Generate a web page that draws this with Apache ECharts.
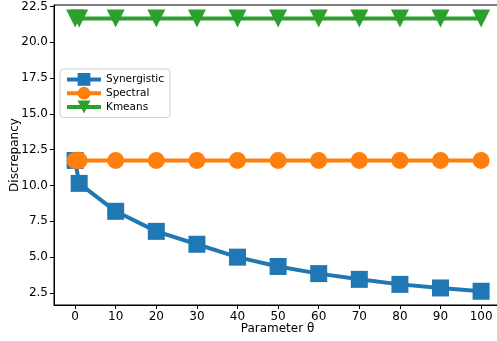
<!DOCTYPE html>
<html>
<head>
<meta charset="utf-8">
<script src="https://cdn.jsdelivr.net/npm/echarts@6/dist/echarts.min.js"></script>
<style>
  html, body { margin: 0; padding: 0; background: #fff; }
  #chart { width: 497px; height: 341px; }
</style>
</head>
<body>
<div id="chart"></div>
<script>
var thetas = [0, 1, 10, 20, 30, 40, 50, 60, 70, 80, 90, 100];
var synergistic = [11.75, 10.15, 8.2, 6.8, 5.9, 5.0, 4.35, 3.85, 3.45, 3.1, 2.85, 2.62];
var spectral = [11.75, 11.75, 11.75, 11.75, 11.75, 11.75, 11.75, 11.75, 11.75, 11.75, 11.75, 11.75];
var kmeans = [21.65, 21.65, 21.65, 21.65, 21.65, 21.65, 21.65, 21.65, 21.65, 21.65, 21.65, 21.65];
var xTicks = [0, 10, 20, 30, 40, 50, 60, 70, 80, 90, 100];
var yTicks = [2.5, 5, 7.5, 10, 12.5, 15, 17.5, 20, 22.5];

var chart = echarts.init(document.getElementById('chart'));
var font = 'DejaVu Sans';

function pairs(ys) {
  return thetas.map(function (t, i) { return [t, ys[i]]; });
}

var option = {
  animation: false,
  textStyle: { fontFamily: font },
  grid: {
    left: 54, top: 5, right: -4, bottom: 36,
    containLabel: false, outerBoundsMode: 'none',
    show: true, borderColor: '#000', borderWidth: 1
  },
  legend: {
    orient: 'vertical',
    left: 60, top: 69,
    itemWidth: 34, itemHeight: 16, itemGap: 1,
    padding: [4, 6, 4, 5],
    borderColor: '#ccc', borderWidth: 1, borderRadius: 3,
    lineStyle: { width: 4 },
    textStyle: { fontFamily: font, fontSize: 10.5, color: '#000' },
    data: ['Synergistic', 'Spectral', 'Kmeans']
  },
  xAxis: {
    type: 'value', min: -5.2, max: 104.9,
    name: 'Parameter θ', nameLocation: 'middle', nameGap: 18, nameMoveOverlap: false,
    nameTextStyle: { fontFamily: font, fontSize: 12, color: '#000' },
    axisLine: { onZero: false, lineStyle: { color: '#000' } },
    axisTick: { show: true, customValues: xTicks, length: 4, lineStyle: { color: '#000' } },
    axisLabel: { customValues: xTicks, fontFamily: font, fontSize: 12, color: '#000', margin: 6 },
    splitLine: { show: false }
  },
  yAxis: {
    type: 'value', min: 1.66, max: 22.6,
    name: 'Discrepancy', nameLocation: 'middle', nameGap: 33, nameMoveOverlap: false,
    nameTextStyle: { fontFamily: font, fontSize: 12, color: '#000' },
    axisLine: { show: true, onZero: false, lineStyle: { color: '#000' } },
    axisTick: { show: true, customValues: yTicks, length: 4, lineStyle: { color: '#000' } },
    axisLabel: {
      customValues: yTicks, fontFamily: font, fontSize: 12, color: '#000', margin: 6,
      formatter: function (v) { return v.toFixed(1); }
    },
    splitLine: { show: false }
  },
  series: [
    {
      name: 'Synergistic', type: 'line', data: pairs(synergistic),
      symbol: 'rect', symbolSize: 17,
      lineStyle: { width: 4, color: '#1f77b4' },
      itemStyle: { color: '#1f77b4' }
    },
    {
      name: 'Spectral', type: 'line', data: pairs(spectral),
      symbol: 'circle', symbolSize: 17,
      lineStyle: { width: 4, color: '#ff7f0e' },
      itemStyle: { color: '#ff7f0e' }
    },
    {
      name: 'Kmeans', type: 'line', data: pairs(kmeans),
      symbol: 'triangle', symbolRotate: 180, symbolSize: 18,
      lineStyle: { width: 4, color: '#2ca02c' },
      itemStyle: { color: '#2ca02c' }
    }
  ]
};
chart.setOption(option);
</script>
</body>
</html>
